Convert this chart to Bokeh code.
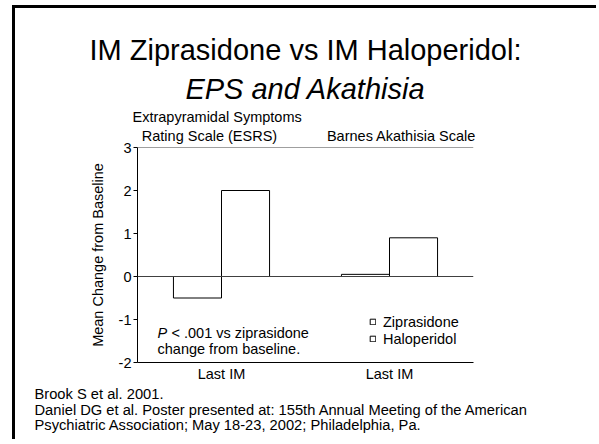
from bokeh.plotting import figure
from bokeh.models import (FactorRange, Range1d, ColumnDataSource, Span, Label, Title,
                          Legend, LegendItem, FixedTicker, CategoricalAxis,
                          CustomJSTickFormatter)
from bokeh.transform import dodge
from bokeh.embed import file_html
from bokeh.resources import INLINE

# ---------------- data ----------------
scales = ["Rating Scale (ESRS)", "Barnes Akathisia Scale"]
scale_prefix = "Extrapyramidal Symptoms"
x_labels = ["Last IM", "Last IM"]
ziprasidone = [-0.5, 0.05]
haloperidol = [2.0, 0.9]
series_names = ["Ziprasidone", "Haloperidol"]
y_ticks = [-2, -1, 0, 1, 2, 3]
y_tick_labels = ["-2", "-1", "0", "1", "2", "3"]
y_title = "Mean Change from Baseline"
title_lines = ["IM Ziprasidone vs IM Haloperidol:", "EPS and Akathisia"]
note_p = "P"
note_lines = ["< .001 vs ziprasidone", "change from baseline."]
citations = [
    "Brook S et al. 2001.",
    "Daniel DG et al. Poster presented at: 155th Annual Meeting of the American",
    "Psychiatric Association; May 18-23, 2002; Philadelphia, Pa.",
]

FONT = "Liberation Sans"
SMALL = "14.5px"

# canvas placement on page: left 15, top 8
CX, CY = 15, 8
W, H = 584, 434
F_L, F_R, F_T, F_B = 137, 473, 147, 362  # frame edges in page coords

p = figure(width=W, height=H,
           x_range=FactorRange(factors=scales, range_padding=0),
           y_range=Range1d(-2, 3),
           output_backend="svg", toolbar_location=None,
           min_border_left=F_L - CX, min_border_right=CX + W - F_R,
           min_border_top=F_T - CY, min_border_bottom=CY + H - F_B)
p.extra_x_ranges = {"heads": FactorRange(factors=scales, range_padding=0,
                                         factor_padding=1 / 3)}
p.styles = {"border-left": "3px solid black", "border-top": "3px solid black",
            "margin-left": "12px", "margin-top": "5px"}
p.xgrid.visible = False
p.ygrid.visible = False
p.outline_line_color = None
p.background_fill_color = "white"
p.border_fill_color = "white"

src = ColumnDataSource(dict(scale=scales, zip=ziprasidone, halo=haloperidol))
r1 = p.vbar(x=dodge("scale", -0.143, range=p.x_range), top="zip", bottom=0,
            width=0.286, source=src, fill_color="white", line_color="black")
r2 = p.vbar(x=dodge("scale", 0.143, range=p.x_range), top="halo", bottom=0,
            width=0.286, source=src, fill_color="white", line_color="black")

p.add_layout(Span(location=0, dimension="width", line_color="#404040", line_width=1))
p.add_layout(Span(location=3, dimension="width", line_color="#404040", line_width=1))

# y axis
ya = p.yaxis[0]
ya.ticker = FixedTicker(ticks=y_ticks)
ya.major_label_overrides = dict(zip(y_ticks, y_tick_labels))
ya.minor_tick_line_color = None
ya.major_tick_in = 0
ya.major_tick_out = 4
ya.major_label_standoff = 2
ya.axis_line_color = "black"
ya.major_tick_line_color = "black"
ya.major_label_text_font = FONT
ya.major_label_text_font_size = SMALL
ya.major_label_text_color = "black"
ya.axis_label = y_title
ya.axis_label_text_font = FONT
ya.axis_label_text_font_size = SMALL
ya.axis_label_text_font_style = "normal"
ya.axis_label_text_color = "black"
ya.axis_label_standoff = 10

# bottom axis: "Last IM"
xa = p.xaxis[0]
xa.formatter = CustomJSTickFormatter(args=dict(labels=x_labels, factors=scales),
                                     code="return labels[factors.indexOf(tick)]")
xa.major_tick_line_color = None
xa.major_tick_out = 0
xa.major_tick_in = 0
xa.major_label_standoff = 3
xa.axis_line_color = "black"
xa.major_label_text_font = FONT
xa.major_label_text_font_size = SMALL
xa.major_label_text_color = "black"

# top axis: scale names
ta = CategoricalAxis(x_range_name="heads", axis_line_color=None,
                     major_tick_line_color=None,
                     major_tick_out=0, major_tick_in=0, major_label_standoff=4,
                     major_label_text_font=FONT, major_label_text_font_size=SMALL,
                     major_label_text_color="black")
p.add_layout(ta, "above")

# first line of the ESRS heading
p.add_layout(Title(text=scale_prefix, align="left", offset=132 - F_L, text_font=FONT,
                   text_font_size=SMALL, text_font_style="normal",
                   text_color="black", standoff=0), "above")

# titles
p.add_layout(Title(text=title_lines[1], align="center", text_font=FONT,
                   text_font_size="29px", text_font_style="italic",
                   text_color="black", standoff=4), "above")
p.add_layout(Title(text=title_lines[0], align="center", text_font=FONT,
                   text_font_size="29px", text_font_style="normal",
                   text_color="black", standoff=5), "above")

# citations
p.add_layout(Title(text="\n".join(citations), align="left", offset=34 - F_L,
                   text_font=FONT, text_font_size="14.7px", text_font_style="normal",
                   text_line_height=0.98, text_color="black", standoff=0), "below")

legend = Legend(items=[LegendItem(label=series_names[0], renderers=[r1]),
                       LegendItem(label=series_names[1], renderers=[r2])],
                location=(369 - F_L, F_B - 347), glyph_width=7, glyph_height=7,
                label_height=17, label_standoff=7, spacing=0, padding=0, margin=0,
                border_line_color=None, background_fill_alpha=0,
                label_text_font=FONT, label_text_font_size=SMALL,
                label_text_color="black")
p.add_layout(legend)


def lab(text, px, py, style="normal"):
    p.add_layout(Label(x=px - F_L, y=F_B - py, x_units="screen", y_units="screen",
                       text=text, text_font=FONT, text_font_size=SMALL,
                       text_align="left", text_baseline="alphabetic",
                       text_font_style=style, text_color="black"))


lab(note_p, 157, 332, style="italic")
lab(note_lines[0], 171, 332)
lab(note_lines[1], 157, 348)

open("out.html", "w").write(file_html(p, INLINE))
